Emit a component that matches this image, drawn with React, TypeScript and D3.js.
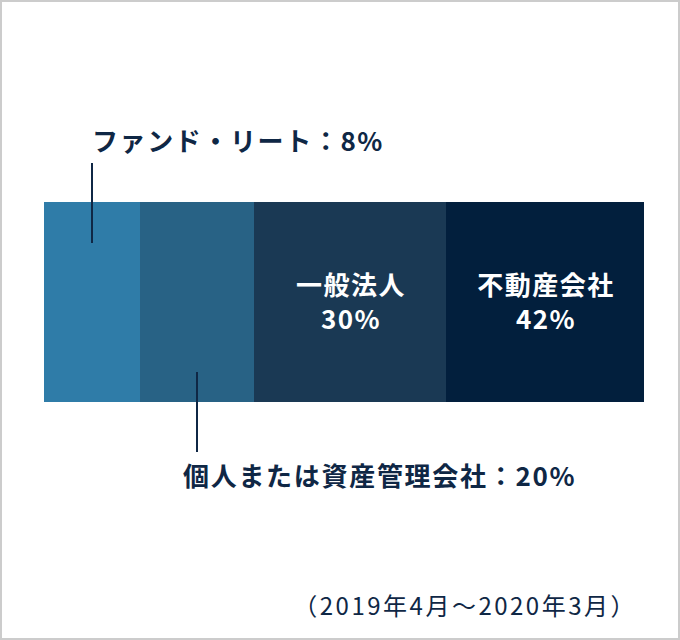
import React, { useEffect } from 'react';
import * as d3 from 'd3';

// 購入者の内訳
const categories = ['ファンド・リート', '個人または資産管理会社', '一般法人', '不動産会社'];
const shares = [8, 20, 30, 42];
const period = '（2019年4月～2020年3月）';

const colors = ['#2f7ca8', '#286285', '#1a3954', '#021f3d'];
const ink = '#0f2745';
const font = '"Noto Sans CJK JP", "Noto Sans", sans-serif';

const W = 680;
const H = 640;
const bar = { left: 44, right: 644, top: 202, bottom: 402 };

const App: React.FC = () => {
  useEffect(() => {
    document.body.style.margin = '0';
  }, []);

  const ends = Array.from(d3.cumsum(shares));
  const starts = [0, ...ends.slice(0, -1)];

  // the original graphic does not draw the segments to scale, so the
  // scale is piecewise with the breakpoints the picture uses
  const x = d3.scaleLinear()
    .domain([0, ...ends])
    .range([bar.left, 140, 254, 446, bar.right]);

  const mid = (i: number) => (x(starts[i]) + x(ends[i])) / 2;

  return (
    <svg width={W} height={H} style={{ display: 'block', fontFamily: font }}>
      <rect x={1} y={1} width={W - 2} height={H - 2} fill="#fff" stroke="#cccccc" strokeWidth={2} />

      {shares.map((v, i) => (
        <rect
          key={categories[i]}
          x={x(starts[i])}
          y={bar.top}
          width={x(ends[i]) - x(starts[i])}
          height={bar.bottom - bar.top}
          fill={colors[i]}
        />
      ))}

      {/* ファンド・リート (above) */}
      <line x1={mid(0)} x2={mid(0)} y1={163} y2={243} stroke={ink} strokeWidth={2} />
      <text x={mid(0)} y={151} fill={ink} fontSize={26} fontWeight={700} letterSpacing={1.6}>
        {`${categories[0]}：${shares[0]}%`}
      </text>

      {/* 個人または資産管理会社 (below) */}
      <line x1={mid(1)} x2={mid(1)} y1={372} y2={452} stroke={ink} strokeWidth={2} />
      <text x={mid(1) - 14} y={486} fill={ink} fontSize={26} fontWeight={700} letterSpacing={1.7}>
        {`${categories[1]}：${shares[1]}%`}
      </text>

      {/* labels inside the bar */}
      {[2, 3].map(i => (
        <g key={i} fill="#fff" fontSize={26} fontWeight={700} letterSpacing={1.5} textAnchor="middle">
          <text x={mid(i) + 1} y={295}>{categories[i]}</text>
          <text x={mid(i) + 1} y={329}>{`${shares[i]}%`}</text>
        </g>
      ))}

      <text x={637} y={615} fill={ink} fontSize={24} letterSpacing={2.5} textAnchor="end">
        {period}
      </text>
    </svg>
  );
};

export default App;
